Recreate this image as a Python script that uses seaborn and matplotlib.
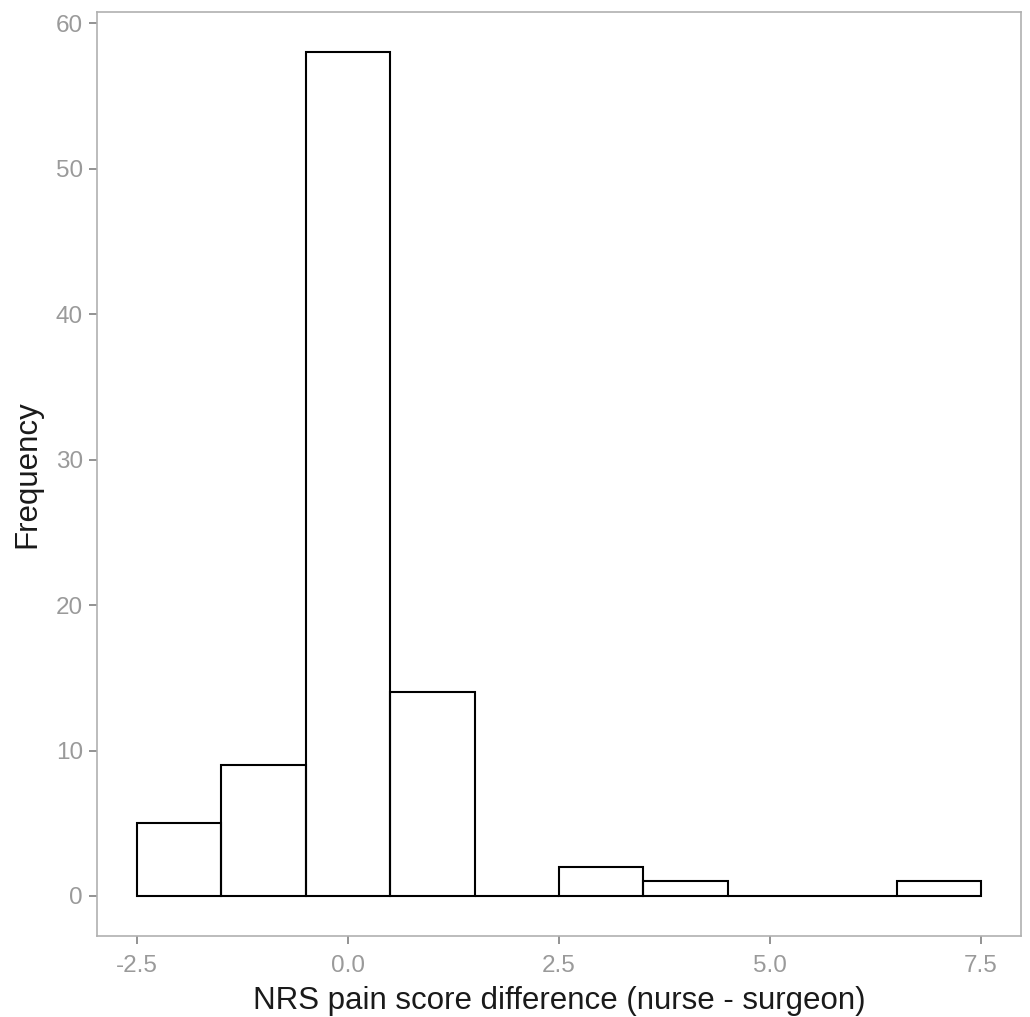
import numpy as np
import pandas as pd
import matplotlib
matplotlib.use("Agg")
import matplotlib.pyplot as plt
import seaborn as sns

# bin centres (NRS pain score difference) and frequencies
score_diff = [-2, -1, 0, 1, 2, 3, 4, 5, 6, 7]
frequency = [5, 9, 58, 14, 0, 2, 1, 0, 0, 1]

df = pd.DataFrame({"diff": score_diff, "freq": frequency})

sns.set_style("white")
plt.rcParams["font.family"] = ["Liberation Sans", "DejaVu Sans"]

fig = plt.figure(figsize=(10.30, 10.17), dpi=100)
ax = fig.add_axes([97 / 1030, 81 / 1017, 924 / 1030, 924 / 1017])

sns.histplot(
    data=df, x="diff", weights="freq", binwidth=1, binrange=(-2.5, 7.5),
    fill=False, color="black", linewidth=1.5, ax=ax
)

ax.set_xlim(-2.974, 7.974)
ax.set_ylim(-2.75, 60.76)
ax.set_xticks([-2.5, 0.0, 2.5, 5.0, 7.5])
ax.set_xticklabels(["-2.5", "0.0", "2.5", "5.0", "7.5"])
ax.set_yticks([0, 10, 20, 30, 40, 50, 60])

ax.set_xlabel("NRS pain score difference (nurse - surgeon)", fontsize=22.5,
              color="#1a1a1a", labelpad=6)
ax.set_ylabel("Frequency", fontsize=22.5, color="#1a1a1a", labelpad=10)
ax.tick_params(axis="both", colors="#8a8a8a", labelcolor="#9a9a9a", labelsize=17.5,
               length=6, width=1.3, direction="out", bottom=True, left=True, pad=4)
ax.tick_params(axis="x", pad=8)

for side in ax.spines.values():
    side.set_visible(True)
    side.set_color("#b0b0b0")
    side.set_linewidth(1.2)

fig.savefig("out.png", dpi=100)
